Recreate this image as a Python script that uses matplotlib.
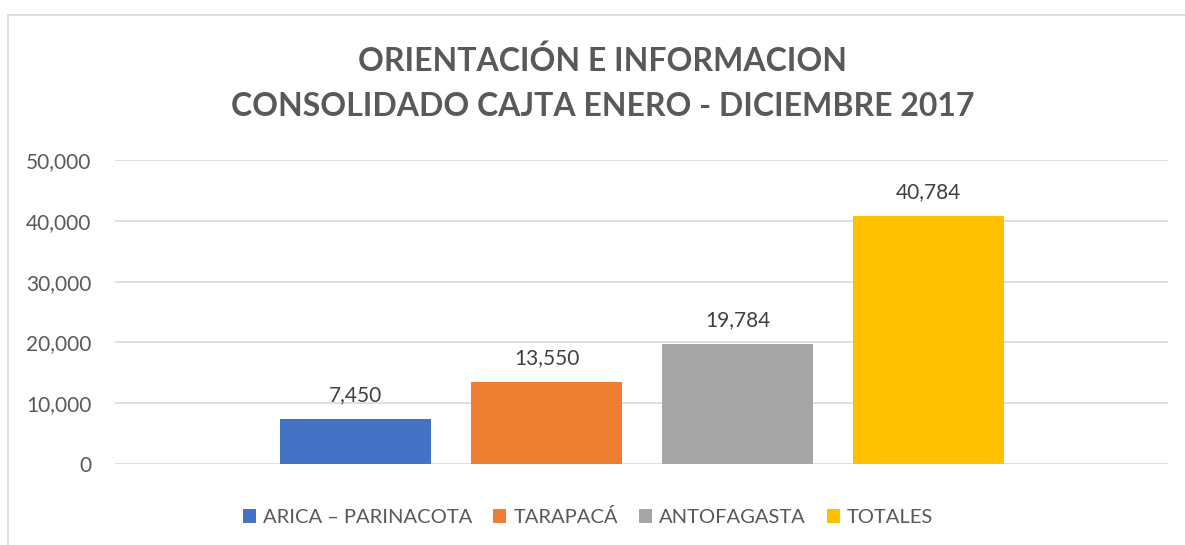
import matplotlib
matplotlib.use("Agg")
import matplotlib.pyplot as plt
from matplotlib.lines import Line2D
from matplotlib.patches import Patch

series = ["ARICA – PARINACOTA", "TARAPACÁ", "ANTOFAGASTA", "TOTALES"]
values = [7450, 13550, 19784, 40784]
colors = ["#4472C4", "#ED7D31", "#A5A5A5", "#FFC000"]
yticks = [0, 10000, 20000, 30000, 40000, 50000]
title_lines = ["ORIENTACIÓN E INFORMACION", "CONSOLIDADO CAJTA ENERO - DICIEMBRE 2017"]

plt.rcParams['font.family'] = ['Lato', 'DejaVu Sans']
TXT = "#595959"
W, H = 1185, 545
fig = plt.figure(figsize=(W / 100, H / 100), dpi=100)

# chart border (top and left edges visible)
fig.add_artist(Line2D([8 / W, 1], [1 - 15 / H, 1 - 15 / H], color="#D9D9D9", lw=1.2))
fig.add_artist(Line2D([8 / W, 8 / W], [0, 1 - 15 / H], color="#D9D9D9", lw=1.2))

ax = fig.add_axes([115 / W, 1 - 464 / H, (1168 - 115) / W, (464 - 160) / H])
x = list(range(len(values)))
bars = ax.bar(x, values, width=151 / 191, color=colors, zorder=3)
ax.set_xlim(-1.259, 3 + 1.254)
ax.set_ylim(0, 50000)
ax.set_yticks(yticks)
ax.set_yticklabels([f"{v:,}" for v in yticks], color=TXT, fontsize=15)
ax.tick_params(axis='y', length=0, pad=17)
ax.set_xticks([])
ax.grid(axis='y', color="#D9D9D9", lw=1.2, zorder=0)
for s in ax.spines.values():
    s.set_visible(False)

for xi, v in zip(x, values):
    ax.annotate(f"{v:,}", (xi, v), xytext=(0, 10), textcoords="offset points",
                ha="center", va="bottom", fontsize=15, color="#404040")

fig.text(603 / W, 1 - 61 / H, title_lines[0], ha="center", va="center",
         fontsize=23, fontweight="bold", color=TXT)
fig.text(603 / W, 1 - 106 / H, title_lines[1], ha="center", va="center",
         fontsize=23, fontweight="bold", color=TXT)

handles = [Patch(facecolor=c, edgecolor="none") for c in colors]
fig.legend(handles, series, loc="center", bbox_to_anchor=(588 / W, 1 - 517 / H),
           ncol=4, frameon=False, fontsize=14.5, labelcolor=TXT,
           handlelength=0.65, handleheight=0.65, handletextpad=0.35, columnspacing=1.05)

fig.savefig("out.png", dpi=100)
